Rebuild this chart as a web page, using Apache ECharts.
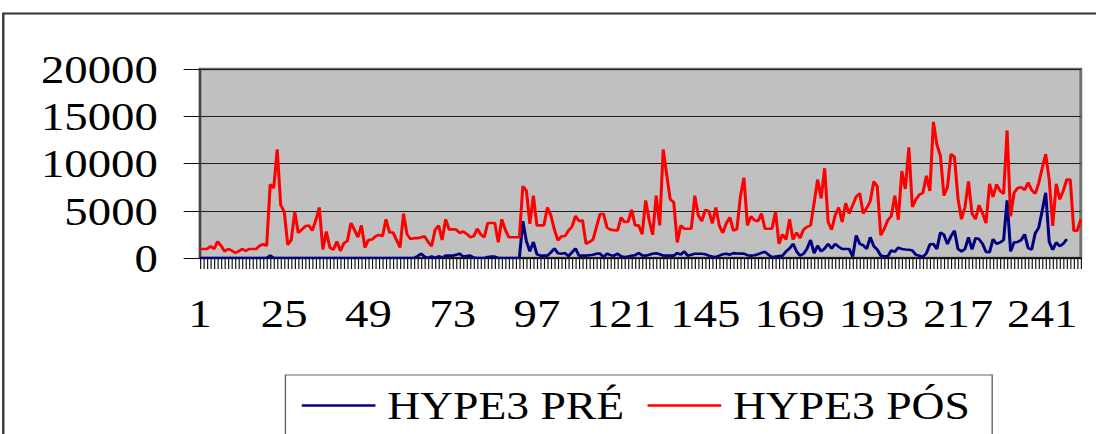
<!DOCTYPE html>
<html>
<head>
<meta charset="utf-8">
<script src="https://cdn.jsdelivr.net/npm/echarts@6/dist/echarts.min.js"></script>
<style>
  html, body { margin: 0; padding: 0; background: #ffffff; overflow: hidden; }
  #wrap { width: 1096px; height: 434px; overflow: hidden; position: relative; }
  /* the chart is laid out on a narrower canvas and widened, giving the broad serif lettering */
  #chart { width: 937px; height: 434px; transform: scaleX(1.16969); transform-origin: 0 0; }
</style>
</head>
<body>
<div id="wrap"><div id="chart"></div></div>
<script>
// Series names
const seriesNames = ['HYPE3 PRÉ', 'HYPE3 PÓS'];

// HYPE3 PRÉ values, one per observation
const preValues = [
  0, 0, 0, 0, 0, 0, 0, 0, 0, 0, 0, 0,
  0, 0, 0, 0, 0, 0, 0, 0, 250, 0, 0, 0,
  0, 0, 0, 0, 0, 0, 0, 0, 0, 0, 0, 0,
  0, 0, 0, 0, 0, 0, 0, 0, 0, 0, 0, 0,
  0, 0, 0, 0, 0, 0, 0, 0, 0, 0, 0, 0,
  0, 0, 200, 450, 150, 0, 180, 0, 180, 50, 250, 250,
  250, 350, 450, 150, 200, 250, 50, 0, 0, 0, 100, 150,
  150, 0, 0, 0, 0, 0, 0, 0, 3900, 1800, 700, 1700,
  400, 250, 250, 250, 600, 1000, 500, 450, 520, 200, 600, 1000,
  250, 250, 250, 300, 350, 460, 460, 100, 460, 300, 250, 460,
  180, 100, 150, 250, 300, 530, 280, 250, 350, 450, 500, 400,
  250, 250, 250, 250, 520, 350, 700, 250, 350, 450, 450, 450,
  400, 250, 150, 110, 250, 400, 460, 350, 520, 480, 460, 460,
  300, 250, 300, 400, 550, 650, 350, 80, 150, 200, 250, 700,
  1000, 1500, 700, 250, 450, 1000, 1900, 500, 1300, 700, 1000, 1500,
  1000, 1500, 1200, 950, 950, 950, 150, 2400, 1500, 1350, 950, 2200,
  1250, 880, 250, 180, 180, 800, 650, 1100, 950, 900, 880, 800,
  350, 250, 110, 500, 1450, 1480, 950, 2700, 2450, 1480, 2300, 2900,
  950, 700, 950, 2200, 900, 2100, 2000, 1500, 650, 600, 2000, 1500,
  1650, 1900, 6100, 700, 1650, 1700, 1900, 2500, 1050, 900, 2600, 3200,
  5000, 6900, 1700, 880, 1650, 1250, 1500, 2000
];

// HYPE3 PÓS values, one per observation
const posValues = [
  950, 950, 950, 1250, 950, 1750, 1300, 700, 950, 800, 550, 700,
  950, 750, 950, 950, 950, 1300, 1450, 1300, 7800, 7400, 11500, 5600,
  4900, 1400, 1900, 4900, 2650, 3000, 3350, 3450, 2900, 4000, 5350, 900,
  2800, 1100, 880, 1750, 750, 1550, 1800, 3700, 3000, 2200, 3450, 1100,
  1900, 1950, 2300, 2450, 2300, 4100, 2700, 2700, 1900, 1100, 4700, 2500,
  2000, 2100, 2100, 2200, 2300, 1700, 1250, 3000, 3450, 1900, 4100, 3000,
  3050, 3000, 2650, 2800, 2550, 2200, 2300, 3100, 2500, 2200, 3700, 3700,
  3700, 1650, 4100, 3000, 2200, 2200, 2200, 2200, 7600, 7150, 3600, 6600,
  3450, 3450, 3450, 5350, 4500, 3000, 1850, 2300, 2300, 2900, 3300, 4450,
  3900, 4000, 1500, 1700, 1950, 3300, 4650, 4650, 3200, 3000, 2950, 2920,
  4300, 3800, 3850, 5100, 3450, 3450, 2500, 6100, 4000, 2450, 6600, 3450,
  11500, 8800, 6200, 5900, 1650, 3450, 3100, 3100, 3100, 6600, 4500, 3900,
  5100, 4950, 3650, 5350, 3400, 2650, 3700, 4300, 2900, 3050, 6500, 8500,
  3450, 4400, 4000, 3900, 4700, 3100, 3100, 3100, 4900, 1500, 2500, 1950,
  4100, 1950, 2700, 2100, 3000, 3300, 3450, 5800, 8300, 6300, 9500, 3800,
  3000, 4500, 5350, 3800, 5800, 4700, 5600, 6500, 6850, 4700, 5300, 6000,
  8100, 7600, 2400, 3100, 4000, 4450, 6600, 4050, 9200, 7300, 11700, 5400,
  6200, 6700, 6900, 8700, 7100, 14400, 12000, 10800, 6600, 7500, 11000, 10700,
  6300, 4100, 5400, 8100, 4700, 4100, 5600, 4750, 3700, 7850, 6450, 7800,
  7100, 6800, 13500, 4400, 6900, 7400, 7500, 7200, 8000, 7200, 6800, 7900,
  9500, 11000, 8300, 3400, 7850, 6200, 7100, 8300, 8300, 2900, 2900, 4100
];

// Observation numbers 1..N along the horizontal axis
const categories = [];
for (let i = 1; i <= posValues.length; i++) categories.push(String(i));

// Value axis ticks
const yMin = 0, yMax = 20000, yStep = 5000;
// every 24th observation is labelled: 1, 25, 49, ...
const labelEvery = 24;

const serif = "'Liberation Serif', 'Times New Roman', serif";

const chart = echarts.init(document.getElementById('chart'), null, { renderer: 'svg' });
chart.setOption({
  animation: false,
  backgroundColor: '#ffffff',
  graphic: [{
    type: 'rect',
    z: -10,
    silent: true,
    shape: { x: 2.8, y: 13.5, width: 3000, height: 3000 },
    style: { fill: 'transparent', stroke: '#333333', lineWidth: 2 }
  }],
  grid: {
    left: 171, right: 13, top: 69, bottom: 176,
    show: true,
    backgroundColor: '#c0c0c0',
    borderColor: '#707070',
    borderWidth: 2.5
  },
  legend: {
    data: seriesNames,
    left: 244, top: 375,
    padding: [11, 19, 60, 14],
    icon: 'rect',
    itemWidth: 63, itemHeight: 2.6, itemGap: 20,
    backgroundColor: '#ffffff',
    borderColor: '#666666', borderWidth: 1.2, borderRadius: 0,
    textStyle: { fontFamily: serif, fontSize: 39, lineHeight: 39, color: '#000', padding: [0, 0, 0, 5] }
  },
  xAxis: {
    type: 'category',
    data: categories,
    boundaryGap: false,
    axisLine: { show: true, onZero: false, lineStyle: { color: '#000', width: 1.5 } },
    axisTick: { show: true, interval: 0, length: 11, lineStyle: { color: '#111', width: 1 } },
    axisLabel: {
      interval: function (index) { return index % labelEvery === 0; },
      hideOverlap: false,
      margin: 35,
      fontFamily: serif, fontSize: 40, color: '#000'
    },
    splitLine: { show: false }
  },
  yAxis: {
    type: 'value',
    min: yMin, max: yMax, interval: yStep,
    axisLine: { show: true, lineStyle: { color: '#404040', width: 1.5 } },
    axisTick: { show: true, length: 14, lineStyle: { color: '#111', width: 1 } },
    axisLabel: {
      margin: 36, fontFamily: serif, fontSize: 40, color: '#000',
      formatter: function (v) { return String(v); }
    },
    splitLine: { show: true, lineStyle: { color: '#1e1e1e', width: 1 } }
  },
  series: [
    {
      name: seriesNames[0], type: 'line', data: preValues,
      symbol: 'none', color: '#000080',
      lineStyle: { color: '#000080', width: 2.6 }
    },
    {
      name: seriesNames[1], type: 'line', data: posValues,
      symbol: 'none', color: '#ff0000',
      lineStyle: { color: '#ff0000', width: 2.6 }
    }
  ]
});
</script>
</body>
</html>
